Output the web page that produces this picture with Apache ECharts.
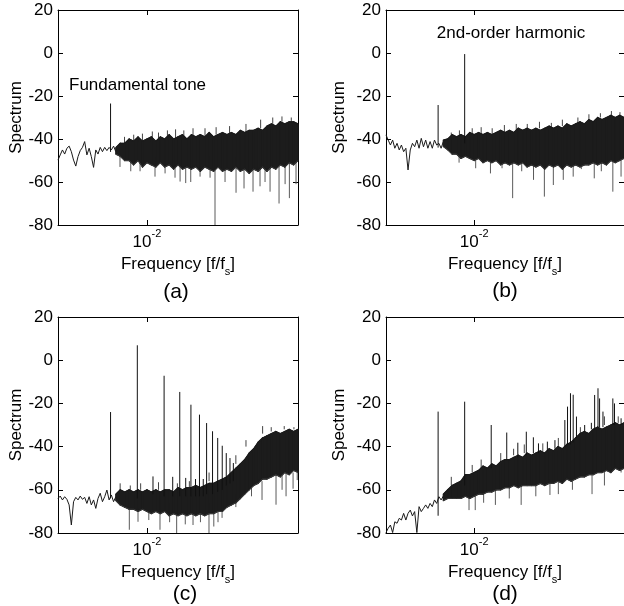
<!DOCTYPE html>
<html><head><meta charset="utf-8">
<script src="https://cdn.jsdelivr.net/npm/echarts@6/dist/echarts.min.js"></script>
<style>html,body{margin:0;padding:0;background:#fff}#c{width:624px;height:606px}</style>
</head><body><div id="c"></div><script>
// ---------- data ----------
// low-frequency single trace region
const traceFreq = [0.001,0.001059,0.001122,0.001189,0.001259,0.001334,0.001413,0.001496,0.001585,0.001679,0.001778,0.001884,0.001995,0.002113,0.002239,0.002371,0.002512,0.002661,0.002818,0.002985,0.003162,0.00335,0.003548,0.003758,0.003981,0.004217,0.004467];
const traceA = [-49.8,-47.4,-45.1,-47,-44.3,-43.3,-45.9,-49.8,-52.6,-48.2,-45.4,-43.9,-41.2,-47.4,-44.3,-48.2,-53.2,-45.1,-47,-43.9,-45.9,-43.9,-45.4,-43.9,-45.1,-43.3,-45.9];
const traceB = [-38.1,-40.5,-42.8,-40.5,-44.3,-42,-45.1,-42.8,-45.9,-44.3,-54.4,-45.1,-42,-43.6,-40.5,-44.3,-39.7,-43.6,-40.5,-44.3,-41.2,-44.3,-40.5,-42.8,-42,-44.3,-41.2];
const traceC = [-64,-62.9,-64.7,-63.2,-64.4,-67,-76.3,-65.5,-63.5,-64.7,-62.9,-64.4,-63.5,-66.3,-63.2,-67,-64.7,-68.6,-64,-61.6,-65.5,-63.2,-60.1,-64.7,-62.4,-65.5,-63.2];
const traceD = [-79.8,-77.8,-76.3,-79.8,-74.8,-75.5,-73.2,-74,-70.9,-74,-70.9,-69.4,-72.1,-70.1,-79.8,-67.8,-70.1,-68.6,-67,-68.6,-66.3,-67.8,-64.7,-66.3,-63.2,-64.7,-62.9];

// dense noise band: upper and lower envelope
const bandFreq = [0.004467,0.005012,0.005623,0.00631,0.007079,0.007943,0.008913,0.01,0.01122,0.01259,0.01413,0.01585,0.01778,0.01995,0.02239,0.02512,0.02818,0.03162,0.03548,0.03981,0.04467,0.05012,0.05623,0.0631,0.07079,0.07943,0.08913,0.1,0.1122,0.1259,0.1413,0.1585,0.1778,0.1995,0.2239,0.2512,0.2818,0.3162,0.3548,0.3981,0.4467,0.5];
const upperA = [-44,-42,-42,-40,-41,-39,-41,-40,-39,-41,-39,-40,-38,-40,-39,-38,-40,-38,-39,-38,-39,-37,-39,-38,-37,-38,-37,-38,-36,-37,-36,-36,-35,-36,-34,-33,-34,-32,-33,-32,-32,-33];
const lowerA = [-47,-48,-50,-50,-52,-50,-53,-51,-52,-53,-51,-53,-52,-54,-52,-54,-53,-54,-53,-55,-53,-54,-55,-53,-55,-54,-55,-53,-55,-54,-56,-54,-55,-53,-55,-53,-54,-52,-53,-51,-52,-50];
const upperB = [-40.5,-40,-38,-39,-38,-39,-37,-38,-37,-38,-37,-38,-37,-36,-37,-36,-37,-35,-36,-35,-36,-35,-36,-35,-34,-35,-34,-35,-33,-34,-33,-32,-33,-31,-32,-30,-31,-30,-29,-30,-29,-30];
const lowerB = [-43.5,-45,-47,-47,-49,-48,-49,-50,-49,-51,-50,-51,-50,-52,-51,-52,-51,-52,-51,-53,-52,-53,-52,-54,-52,-53,-52,-54,-52,-53,-52,-53,-52,-52,-51,-52,-51,-52,-50,-51,-50,-49];
const upperC = [-62,-60,-61,-60,-61,-60,-61,-60,-61,-60,-61,-60,-60,-61,-59,-60,-59,-59,-58,-59,-58,-57,-57,-56,-55,-54,-52,-50,-48,-46,-43,-41,-38,-36,-35,-34,-33,-34,-33,-32,-33,-32];
const lowerC = [-65,-67,-68,-69,-69,-70,-69,-70,-71,-70,-71,-70,-72,-71,-72,-71,-72,-71,-72,-71,-72,-71,-71,-70,-70,-68,-67,-66,-64,-62,-60,-58,-57,-55,-55,-54,-53,-54,-52,-53,-51,-52];
const upperD = [-62,-60,-58,-57,-56,-53,-53,-52,-51,-49,-50,-48,-49,-47,-46,-46,-45,-44,-45,-43,-44,-43,-42,-43,-41,-42,-40,-41,-39,-38,-36,-34,-33,-34,-32,-31,-32,-31,-30,-29,-30,-29];
const lowerD = [-65,-64,-64,-64,-64,-63,-64,-63,-62,-62,-61,-61,-60,-60,-59,-59,-58,-59,-58,-58,-58,-58,-57,-58,-57,-57,-56,-57,-55,-56,-55,-54,-54,-53,-53,-52,-52,-51,-52,-50,-51,-50];

// tones: [frequency, foot, top]
const peaksA = [[0.0039,-46,-23.5]];
const peaksB = [[0.0039,-44,-24.2],[0.0078,-42,-0.5]];
const peaksC = [[0.0039,-64,-24],[0.0078,-64,6.9],[0.0117,-62,-53.8],[0.0156,-63,-7.2],[0.0195,-63,-54],[0.0234,-63,-14.7],[0.0273,-63,-54.5],[0.03125,-63,-20.6],[0.0352,-63,-55],[0.039,-63,-25.2],[0.043,-63,-55],[0.0469,-62,-29.1],[0.0547,-62,-32.9],[0.0625,-61,-36],[0.0703,-60,-39.6],[0.078,-58,-43],[0.0859,-57,-45.3],[0.09375,-56,-47.6]];
const peaksD = [[0.0039,-72,-23.8],[0.0078,-58,-19.2],[0.0156,-50,-30],[0.0234,-46,-33.5],[0.03125,-45,-38.2],[0.039,-44,-33.1],[0.0469,-43,-35.7],[0.0536,-43,-38.5],[0.0676,-42,-37.7],[0.0824,-41,-37],[0.1067,-40,-27.7],[0.1144,-39,-21.5],[0.1236,-39,-15.3],[0.1327,-38,-16],[0.1445,-36,-26.1],[0.179,-33,-30],[0.2133,-32,-29],[0.2322,-32,-16.1],[0.2535,-31,-13],[0.2643,-31,-17.7],[0.2886,-31,-23.8],[0.3736,-30,-17.7],[0.39,-30,-20],[0.4634,-30,-26.9]];

// small upward noise spikes above the band: [frequency, foot, top]
const spikesA = [[0.0056,-43,-39],[0.0071,-42,-38],[0.0089,-42,-37.5],[0.0115,-41,-36.5],[0.0135,-41,-37],[0.017,-40,-36],[0.021,-40,-35.5],[0.026,-40,-36],[0.033,-39,-35],[0.045,-39,-35],[0.06,-38,-34.5],[0.085,-38,-34],[0.13,-37,-33],[0.19,-35,-31],[0.26,-33,-30],[0.33,-32,-29.5],[0.42,-32,-30]];
const spikesB = [[0.0055,-41,-37],[0.0068,-40,-36],[0.0095,-39,-35],[0.012,-38,-34.5],[0.016,-38,-35],[0.022,-37,-33.5],[0.03,-36,-33],[0.04,-36,-33],[0.055,-35,-32],[0.075,-35,-32.5],[0.1,-34,-31],[0.15,-33,-30],[0.2,-31,-28.5],[0.27,-30,-28],[0.36,-29,-27],[0.45,-29,-27.5]];
const spikesC = [[0.005,-61,-57],[0.0065,-61,-58],[0.0085,-60,-57],[0.0135,-60,-56.5],[0.022,-60,-57],[0.03,-59,-56],[0.05,-56,-52],[0.1,-48,-44],[0.13,-40,-37],[0.2,-34,-30.5],[0.25,-33,-31],[0.35,-32,-30.5],[0.45,-32,-31]];
const spikesD = [[0.0055,-58,-54],[0.0095,-52,-48.5],[0.012,-50,-46],[0.02,-47,-43],[0.028,-44,-41],[0.037,-43,-39],[0.06,-42,-38.5],[0.09,-40,-36],[0.16,-34,-31],[0.3,-30,-26],[0.43,-29,-26]];

// downward noise spikes: [frequency, start, bottom]
const dipsA = [[0.00498,-47,-53],[0.00658,-48,-55],[0.00837,-48,-55],[0.01233,-48,-57.5],[0.016,-48,-56],[0.0207,-48,-58],[0.0236,-48,-59.8],[0.0273,-48,-60.5],[0.0311,-48,-60],[0.0396,-48,-57.5],[0.0513,-48,-58],[0.0583,-50,-80],[0.0756,-48,-60],[0.1005,-48,-65],[0.1236,-48,-63],[0.156,-48,-64.5],[0.187,-48,-62],[0.213,-48,-60],[0.2425,-48,-64.5],[0.306,-48,-70],[0.358,-48,-61],[0.4,-48,-67.5],[0.475,-48,-61]];
const dipsB = [[0.00674,-46,-51],[0.0104,-46,-53.6],[0.0153,-48,-56],[0.0207,-48,-53.6],[0.0273,-48,-67.5],[0.0346,-48,-55],[0.0471,-48,-59],[0.0625,-48,-66.8],[0.079,-48,-61.4],[0.1024,-48,-59],[0.1327,-48,-57.5],[0.164,-48,-54],[0.23,-48,-58.3],[0.2765,-48,-55],[0.3736,-48,-64.5],[0.463,-48,-57.5]];
const dipsC = [[0.00634,-66,-78.5],[0.00794,-66,-74.8],[0.0105,-66,-74],[0.01403,-66,-78.5],[0.018,-66,-75],[0.0216,-66,-80],[0.027,-66,-76],[0.033,-66,-76.3],[0.04,-66,-75],[0.0499,-66,-80],[0.0565,-66,-77],[0.063,-66,-75],[0.07,-66,-73],[0.1,-62,-68],[0.15,-56,-63],[0.197,-56,-64.7],[0.283,-52,-66.9],[0.331,-52,-60],[0.367,-52,-63],[0.44,-52,-59.5],[0.49,-52,-55.5]];
const dipsD = [[0.00874,-62,-69.4],[0.01028,-62,-69.4],[0.0128,-60,-66],[0.0174,-60,-67],[0.025,-58,-64],[0.0341,-57,-67],[0.05,-56,-63],[0.0723,-55,-62.4],[0.09,-55,-62],[0.13,-53,-60],[0.217,-51,-62],[0.3,-50,-58],[0.4634,-49,-52]];

const xTicks = [0.01];
const yMin = -80, yMax = 20, yStep = 20;

// ---------- chart ----------
const FONT = 'Liberation Sans, Arial, Helvetica, sans-serif';
const panels = [
  {grid:{left:58,top:10,width:240,height:215}, gap:33, trace:traceA, up:upperA, lo:lowerA, peaks:peaksA, spikes:spikesA, dips:dipsA},
  {grid:{left:386,top:10,width:240,height:215}, gap:38, trace:traceB, up:upperB, lo:lowerB, peaks:peaksB, spikes:spikesB, dips:dipsB},
  {grid:{left:58,top:317,width:240,height:216}, gap:33, trace:traceC, up:upperC, lo:lowerC, peaks:peaksC, spikes:spikesC, dips:dipsC},
  {grid:{left:386,top:317,width:240,height:216}, gap:38, trace:traceD, up:upperD, lo:lowerD, peaks:peaksD, spikes:spikesD, dips:dipsD}
];

const grids=[], xAxes=[], yAxes=[], series=[];
function vline(color){
  return function(params, api){
    const p1 = api.coord([api.value(0), api.value(1)]);
    const p2 = api.coord([api.value(0), api.value(2)]);
    return {type:'line', shape:{x1:p1[0],y1:p1[1],x2:p2[0],y2:p2[1]}, style:{stroke:color, lineWidth:1}};
  };
}
function bandItem(params, api){
  const a = api.coord([api.value(0), api.value(1)]);
  const b = api.coord([api.value(0), api.value(2)]);
  const c = api.coord([api.value(3), api.value(5)]);
  const d = api.coord([api.value(3), api.value(4)]);
  return {type:'polygon', shape:{points:[a,d,c,b]}, style:{fill:'#1c1c1c', stroke:'#1c1c1c', lineWidth:1.3, lineJoin:'round'}};
}
panels.forEach((p,i)=>{
  grids.push(Object.assign({containLabel:false}, p.grid));
  const xBase = {type:'log', logBase:10, gridIndex:i, min:0.001, max:0.5,
    axisLine:{show:true, onZero:false, lineStyle:{color:'#000', width:1}},
    axisTick:{show:true, inside:true, length:5, customValues:xTicks, lineStyle:{color:'#000'}},
    minorTick:{show:false}, splitLine:{show:false}};
  xAxes.push(Object.assign({}, xBase, {position:'bottom',
    axisLabel:{show:true, customValues:xTicks, margin:3, formatter:()=> '{b|10}{e|-2}',
      rich:{b:{fontSize:17, fontFamily:FONT, color:'#000', lineHeight:28, verticalAlign:'middle'},
            e:{fontSize:11, fontFamily:FONT, color:'#000', lineHeight:28, verticalAlign:'top'}}},
    name:'{n|Frequency [f/f}{s|s}{n|]}', nameLocation:'middle', nameGap:26,
    nameTextStyle:{rich:{n:{fontSize:17, fontFamily:FONT, color:'#000', lineHeight:26, verticalAlign:'middle'},
                         s:{fontSize:11, fontFamily:FONT, color:'#000', lineHeight:26, verticalAlign:'bottom'}}}}));
  xAxes.push(Object.assign({}, xBase, {position:'top', axisLabel:{show:false}}));
  const yBase = {type:'value', gridIndex:i, min:yMin, max:yMax, interval:yStep,
    axisLine:{show:true, onZero:false, lineStyle:{color:'#000', width:1}},
    axisTick:{show:true, inside:true, length:5, lineStyle:{color:'#000'}},
    splitLine:{show:false}};
  yAxes.push(Object.assign({}, yBase, {position:'left',
    axisLabel:{show:true, margin:5, fontSize:17, fontFamily:FONT, color:'#000'},
    name:'Spectrum', nameLocation:'middle', nameGap:p.gap,
    nameTextStyle:{fontSize:17, fontFamily:FONT, color:'#000'}}));
  yAxes.push(Object.assign({}, yBase, {position:'right', axisLabel:{show:false}}));

  const xi = 2*i, yi = 2*i;
  series.push({type:'custom', xAxisIndex:xi, yAxisIndex:yi, z:2, renderItem:vline('#5a5a5a'),
    encode:{x:0, y:[1,2]}, data:p.dips, animation:false, silent:true});
  series.push({type:'custom', xAxisIndex:xi, yAxisIndex:yi, z:2, renderItem:vline('#444'),
    encode:{x:0, y:[1,2]}, data:p.spikes, animation:false, silent:true});
  const seg=[];
  for(let k=0;k<bandFreq.length-1;k++) seg.push([bandFreq[k],p.up[k],p.lo[k],bandFreq[k+1],p.up[k+1],p.lo[k+1]]);
  series.push({type:'custom', xAxisIndex:xi, yAxisIndex:yi, z:3, renderItem:bandItem,
    encode:{x:[0,3], y:[1,2,4,5]}, data:seg, animation:false, silent:true});
  series.push({type:'line', xAxisIndex:xi, yAxisIndex:yi, z:4, symbol:'none', animation:false, silent:true,
    lineStyle:{color:'#1a1a1a', width:1}, data:bandFreq.map((f,k)=>[f,p.up[k]])});
  series.push({type:'line', xAxisIndex:xi, yAxisIndex:yi, z:4, symbol:'none', animation:false, silent:true,
    lineStyle:{color:'#3a3a3a', width:1}, data:bandFreq.map((f,k)=>[f,p.lo[k]])});
  series.push({type:'line', xAxisIndex:xi, yAxisIndex:yi, z:4, symbol:'none', animation:false, silent:true,
    lineStyle:{color:'#1a1a1a', width:1}, data:traceFreq.map((f,k)=>[f,p.trace[k]])});
  series.push({type:'custom', xAxisIndex:xi, yAxisIndex:yi, z:5, renderItem:vline('#111'),
    encode:{x:0, y:[1,2]}, data:p.peaks, animation:false, silent:true});
});

const txt = (x,y,t,size,align)=>({type:'text', x:x, y:y, silent:true,
  style:{text:t, fontSize:size, fontFamily:FONT, fill:'#000', align:align||'center', verticalAlign:'middle'}});

const chart = echarts.init(document.getElementById('c'), null, {renderer:'canvas'});
chart.setOption({
  animation:false,
  backgroundColor:'#fff',
  grid:grids, xAxis:xAxes, yAxis:yAxes, series:series,
  graphic:[
    txt(69,85,'Fundamental tone',17,'left'),
    txt(511,33,'2nd-order harmonic',17,'center'),
    txt(176,292,'(a)',21), txt(505,291,'(b)',21),
    txt(185,594,'(c)',21), txt(505,594,'(d)',21)
  ]
});
</script></body></html>
